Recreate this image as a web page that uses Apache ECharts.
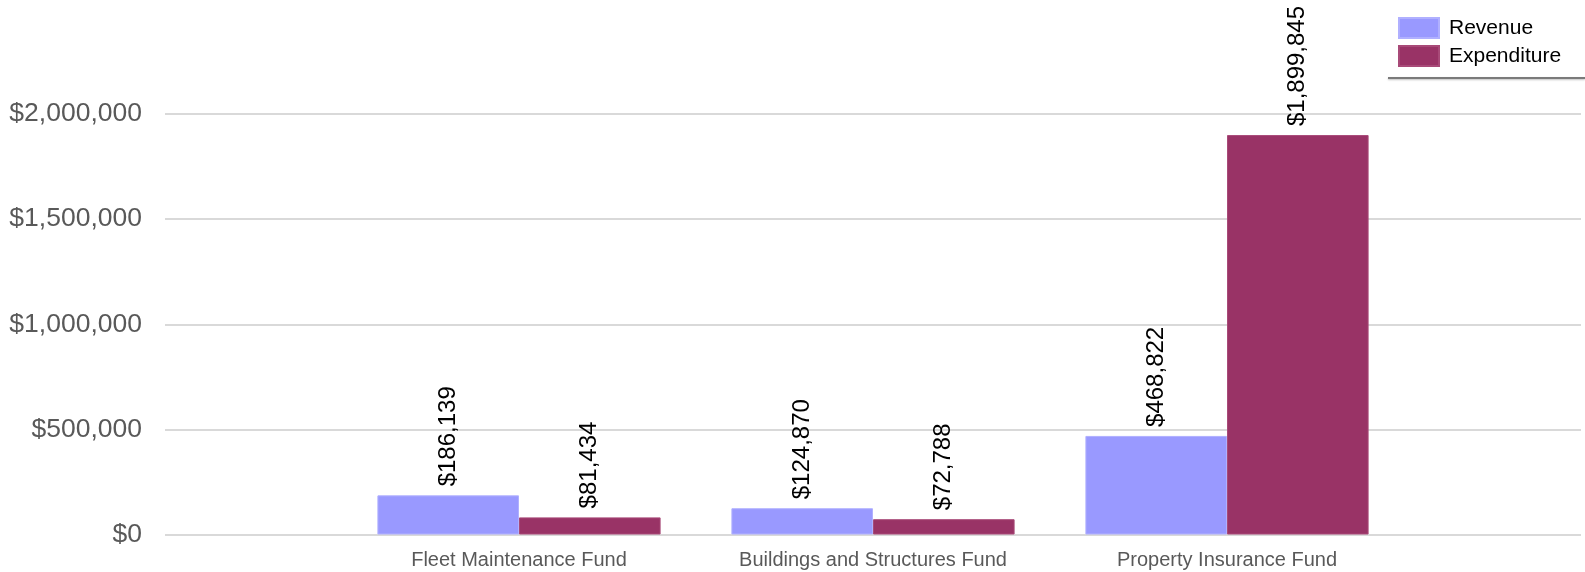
<!DOCTYPE html>
<html>
<head>
<meta charset="utf-8">
<script src="https://cdn.jsdelivr.net/npm/echarts@6/dist/echarts.min.js"></script>
<style>
html,body{margin:0;padding:0;background:#fff;}
#chart{width:1585px;height:572px;}
</style>
</head>
<body>
<div id="chart"></div>
<script>
// Categories (empty edge slots keep the funds at 1/4, 2/4, 3/4 of the plot width)
const categories = ['', 'Fleet Maintenance Fund', 'Buildings and Structures Fund', 'Property Insurance Fund', ''];
const revenue = [null, 186139, 124870, 468822, null];
const expenditure = [null, 81434, 72788, 1899845, null];
const seriesNames = ['Revenue', 'Expenditure'];
const yTicks = [0, 500000, 1000000, 1500000, 2000000];

const FONT = '"Liberation Sans", Arial, sans-serif';
const money = v => '$' + Math.round(v).toLocaleString('en-US');

const chart = echarts.init(document.getElementById('chart'), null, {renderer: 'canvas'});

const labelCfg = {
  show: true,
  position: 'top',
  distance: 9,
  rotate: 90,
  align: 'left',
  verticalAlign: 'middle',
  color: '#000',
  fontFamily: FONT,
  fontSize: 24,
  formatter: p => money(p.value)
};

chart.setOption({
  animation: false,
  backgroundColor: '#fff',
  grid: {left: 165, right: 4, top: 114, bottom: 37.5, containLabel: false},
  legend: {
    orient: 'vertical',
    left: 1393,
    top: 12,
    itemWidth: 40,
    itemHeight: 20,
    itemGap: 6,
    icon: 'rect',
    textStyle: {fontFamily: FONT, fontSize: 21, color: '#000', padding: [0, 0, 0, 5]},
    data: seriesNames
  },
  graphic: [{
    type: 'line',
    shape: {x1: 1388, y1: 78, x2: 1585, y2: 78},
    style: {stroke: '#7a7a7a', lineWidth: 2, shadowColor: 'rgba(0,0,0,0.25)', shadowBlur: 2, shadowOffsetY: 1}
  }],
  xAxis: {
    type: 'category',
    data: categories,
    boundaryGap: false,
    axisLine: {show: false},
    axisTick: {show: false},
    splitLine: {show: false},
    axisLabel: {interval: 0, margin: 16, color: '#595959', fontFamily: FONT, fontSize: 20}
  },
  yAxis: {
    type: 'value',
    min: yTicks[0],
    max: yTicks[yTicks.length - 1],
    interval: yTicks[1] - yTicks[0],
    axisLine: {show: false},
    axisTick: {show: false},
    splitLine: {lineStyle: {color: '#d9d9d9', width: 2}},
    axisLabel: {margin: 23, color: '#595959', fontFamily: FONT, fontSize: 26.5, formatter: v => money(v)}
  },
  series: [
    {
      name: seriesNames[0],
      type: 'bar',
      data: revenue,
      barGap: '0%',
      barCategoryGap: '20%',
      itemStyle: {color: '#9999ff', borderColor: '#b0b0ff', borderWidth: 1},
      label: labelCfg
    },
    {
      name: seriesNames[1],
      type: 'bar',
      data: expenditure,
      barGap: '0%',
      barCategoryGap: '20%',
      itemStyle: {color: '#993366', borderColor: '#a84a78', borderWidth: 1},
      label: labelCfg
    }
  ]
});
</script>
</body>
</html>
